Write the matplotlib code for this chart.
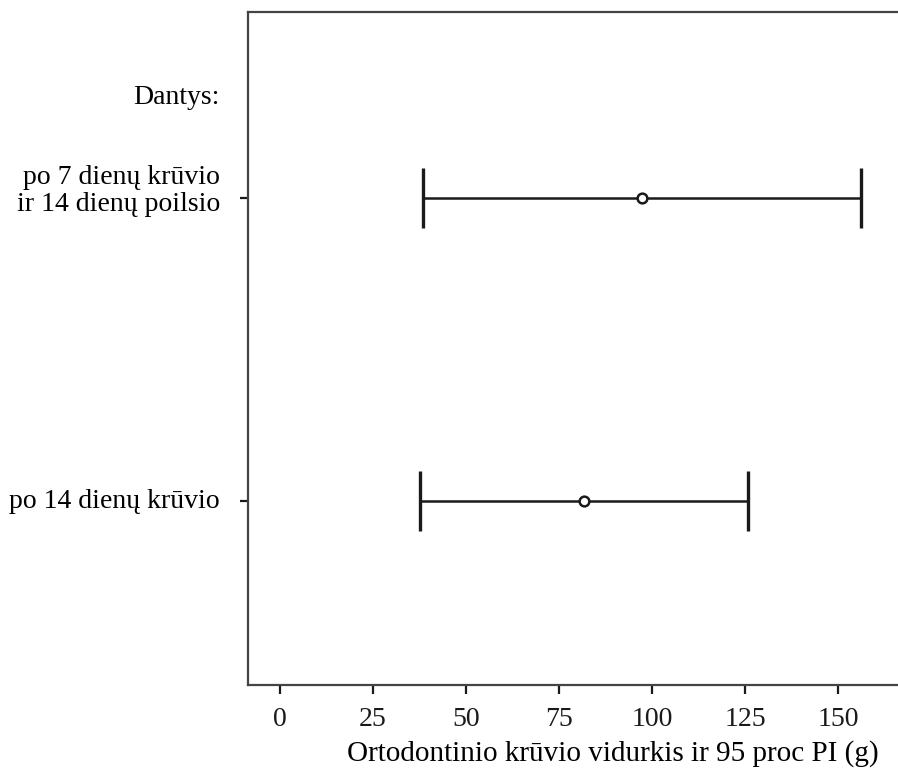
import matplotlib
matplotlib.use("Agg")
import matplotlib.pyplot as plt
from matplotlib.transforms import ScaledTranslation

plt.rcParams["font.family"] = ["Liberation Serif", "DejaVu Serif"]

# group labels (top to bottom), means and 95% CI bounds, in grams
groups = ["po 7 dienų krūvio\nir 14 dienų poilsio", "po 14 dienų krūvio"]
means = [97.3, 81.7]
ci_low = [38.5, 37.5]
ci_high = [156.2, 125.9]
xticks = [0, 25, 50, 75, 100, 125, 150]

W, H = 898, 769
fig = plt.figure(figsize=(W / 100, H / 100), dpi=100)
# axes runs past the right edge of the canvas
ax = fig.add_axes([248 / W, 1 - 685 / H, (978 - 248) / W, (685 - 12) / H])

ypos = [1, 0]
for y, m, lo, hi in zip(ypos, means, ci_low, ci_high):
    ax.plot([lo, hi], [y, y], color="#1a1a1a", lw=1.8, solid_capstyle="butt")
    for x in (lo, hi):
        ax.plot([x, x], [y - 0.1, y + 0.1], color="#1a1a1a", lw=2.4,
                solid_capstyle="butt")
    ax.plot(m, y, "o", ms=7, mfc="white", mec="#1a1a1a", mew=1.8, zorder=3)

ax.set_xlim(-8.6, 187.6)
ax.set_ylim(-0.607, 1.614)
ax.set_xticks(xticks)
ax.set_xticklabels([str(t) for t in xticks], fontsize=20)
ax.set_yticks(ypos)
ax.set_yticklabels([])

# group names drawn beside the ticks; the two-line one sits a bit higher
label_tf = ax.get_yaxis_transform()
for y, name in zip(ypos, groups):
    dy = 7 / 100 if "\n" in name else 0
    ax.text(-28 / (978 - 248), y, name, transform=label_tf
            + ScaledTranslation(0, dy, fig.dpi_scale_trans),
            ha="right", va="center", fontsize=20, linespacing=1.1,
            clip_on=False)

ax.tick_params(axis="x", direction="out", length=6.5, width=1.6,
               pad=9, colors="#1a1a1a")
ax.tick_params(axis="y", direction="out", length=6, width=1.6,
               colors="#1a1a1a")
for s in ax.spines.values():
    s.set_linewidth(1.6)
    s.set_color("#444444")

ax.set_xlabel("Ortodontinio krūvio vidurkis ir 95 proc PI (g)",
              fontsize=21, labelpad=6)
ax.text(220 / W, 1 - 97 / H, "Dantys:", transform=fig.transFigure,
        ha="right", va="center", fontsize=20)

fig.savefig("out.png", dpi=100)
